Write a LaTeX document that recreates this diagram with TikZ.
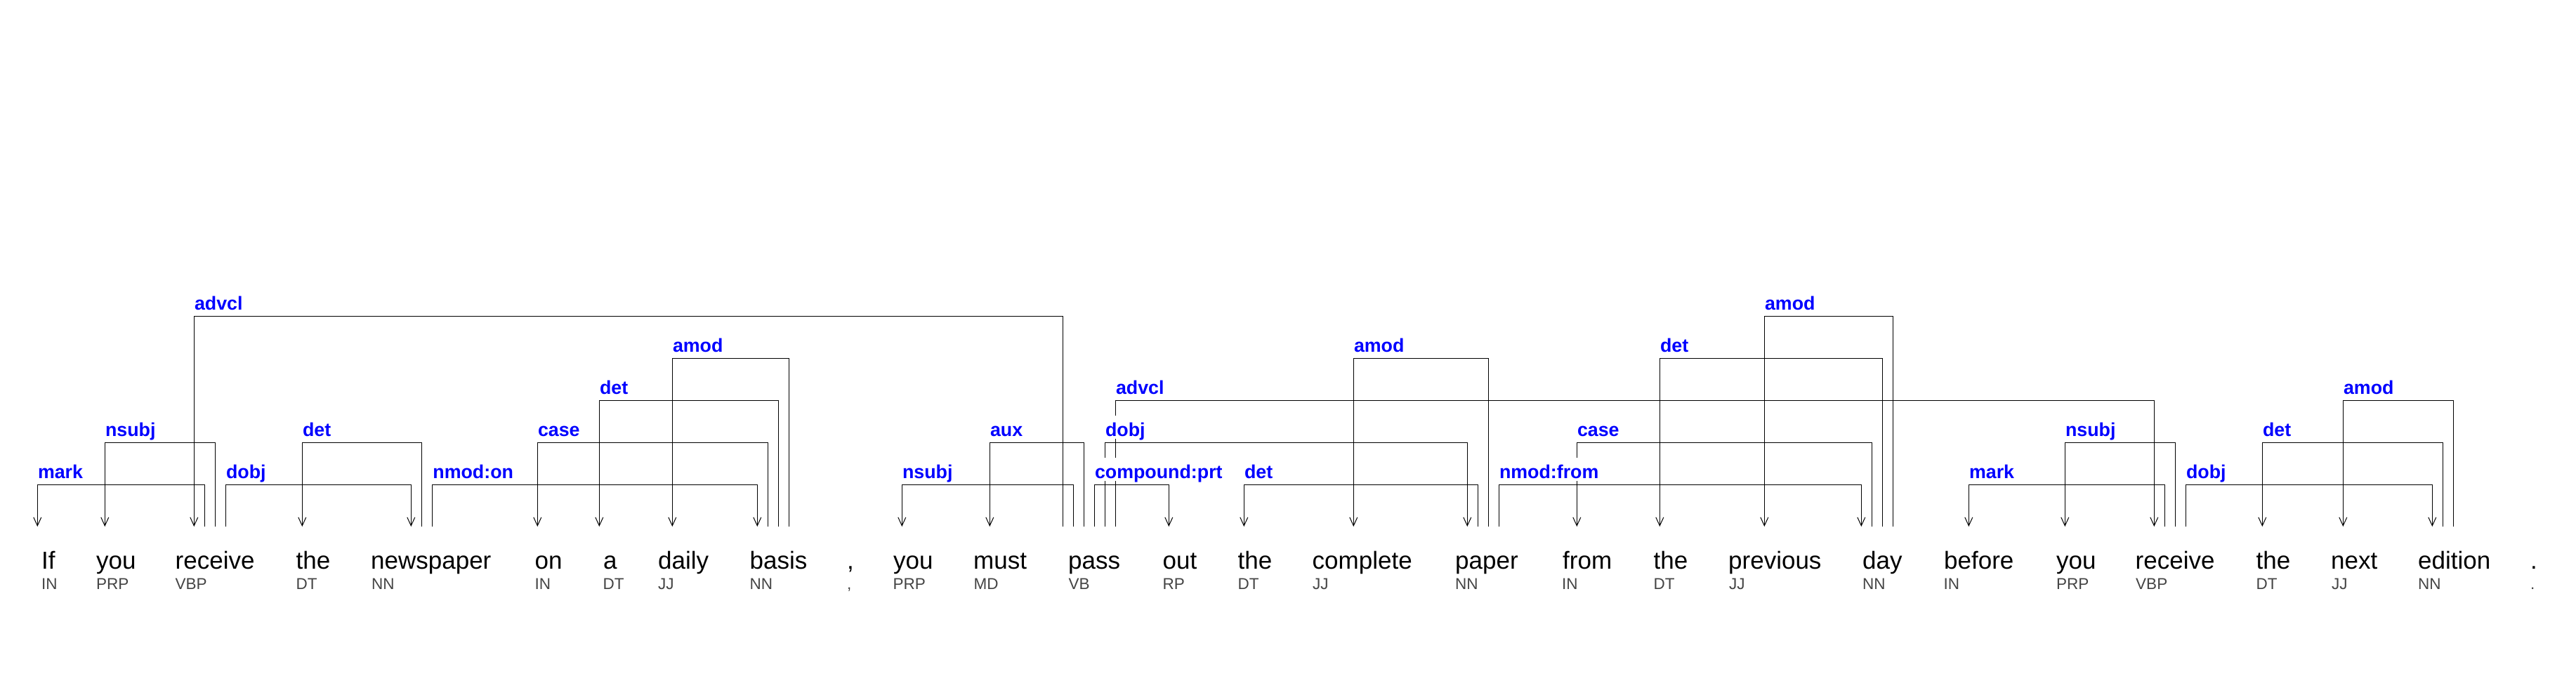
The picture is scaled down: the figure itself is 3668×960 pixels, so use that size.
\documentclass[tikz,border=0pt]{standalone}
\usepackage{fontspec}
\setmainfont{Liberation Sans}
\usetikzlibrary{arrows.meta}
\definecolor{tagcol}{RGB}{68,68,68}
\definecolor{lblblue}{RGB}{0,0,255}
\begin{document}
\begin{tikzpicture}[x=1pt,y=-1pt,
  word/.style={anchor=base west,inner sep=0pt,font=\fontsize{35}{40}\selectfont},
  postag/.style={anchor=base west,inner sep=0pt,text=tagcol,font=\fontsize{22.5}{26}\selectfont},
  deplabel/.style={anchor=base west,inner sep=0pt,fill=white,text=lblblue,text height=29pt,text depth=4pt,font=\bfseries\fontsize{26.8}{30}\selectfont},
  deparrow/.style={draw=black,line width=1pt,-{Straight Barb[length=12pt,width=11pt,line width=1pt]}}]
\fill[white] (0,0) rectangle (3668,960);
\useasboundingbox (0,0) rectangle (3668,960);
% level coordinates
\coordinate (L690) at (0,690);
\coordinate (L630) at (0,630);
\coordinate (L570) at (0,570);
\coordinate (L510) at (0,510);
\coordinate (L450) at (0,450);
% words
\node[word] (w1) at (59,810) {If};
\node[word] (w2) at (137,810) {you};
\node[word] (w3) at (249.5,810) {receive};
\node[word] (w4) at (421.5,810) {the};
\node[word] (w5) at (528,810) {newspaper};
\node[word] (w6) at (761.5,810) {on};
\node[word] (w7) at (859,810) {a};
\node[word] (w8) at (937,810) {daily};
\node[word] (w9) at (1067.5,810) {basis};
\node[word] (w10) at (1206,810) {,};
\node[word] (w11) at (1272,810) {you};
\node[word] (w12) at (1386,810) {must};
\node[word] (w13) at (1521,810) {pass};
\node[word] (w14) at (1655.5,810) {out};
\node[word] (w15) at (1762.5,810) {the};
\node[word] (w16) at (1868.5,810) {complete};
\node[word] (w17) at (2072,810) {paper};
\node[word] (w18) at (2225,810) {from};
\node[word] (w19) at (2354.5,810) {the};
\node[word] (w20) at (2461,810) {previous};
\node[word] (w21) at (2652,810) {day};
\node[word] (w22) at (2768,810) {before};
\node[word] (w23) at (2928,810) {you};
\node[word] (w24) at (3040.5,810) {receive};
\node[word] (w25) at (3212.5,810) {the};
\node[word] (w26) at (3319,810) {next};
\node[word] (w27) at (3443,810) {edition};
\node[word] (w28) at (3603,810) {.};
% tags
\node[postag] (t1) at (59,839) {IN};
\node[postag] (t2) at (137,839) {PRP};
\node[postag] (t3) at (249.5,839) {VBP};
\node[postag] (t4) at (421.5,839) {DT};
\node[postag] (t5) at (529,839) {NN};
\node[postag] (t6) at (761.5,839) {IN};
\node[postag] (t7) at (858.5,839) {DT};
\node[postag] (t8) at (937,839) {JJ};
\node[postag] (t9) at (1067.5,839) {NN};
\node[postag] (t10) at (1206,839) {,};
\node[postag] (t11) at (1271.5,839) {PRP};
\node[postag] (t12) at (1386.5,839) {MD};
\node[postag] (t13) at (1521.5,839) {VB};
\node[postag] (t14) at (1655.5,839) {RP};
\node[postag] (t15) at (1762.5,839) {DT};
\node[postag] (t16) at (1869,839) {JJ};
\node[postag] (t17) at (2072,839) {NN};
\node[postag] (t18) at (2224,839) {IN};
\node[postag] (t19) at (2354.5,839) {DT};
\node[postag] (t20) at (2462,839) {JJ};
\node[postag] (t21) at (2652,839) {NN};
\node[postag] (t22) at (2767.5,839) {IN};
\node[postag] (t23) at (2928,839) {PRP};
\node[postag] (t24) at (3041,839) {VBP};
\node[postag] (t25) at (3212.5,839) {DT};
\node[postag] (t26) at (3320,839) {JJ};
\node[postag] (t27) at (3443,839) {NN};
\node[postag] (t28) at (3603,839) {.};
% dependency connectors
\foreach \hx/\dx/\lv/\lab [count=\i] in {
  291.7/53.3/690/mark, 306.3/149.3/630/nsubj, 1513.3/276.3/450/advcl,
  321.3/585.3/690/dobj, 600.3/430.3/630/det, 615.7/1078.3/690/nmod:on,
  1093.3/765.3/630/case, 1108.3/853.3/570/det, 1123.3/957.3/510/amod,
  1528.3/1284.3/690/nsubj, 1543.3/1409.3/630/aux, 1558.3/1664.3/690/compound:prt,
  1573.3/2089.3/630/dobj, 1588.3/3067.3/570/advcl, 2104.3/1771.3/690/det,
  2119.3/1927.3/510/amod, 2134.3/2650.3/690/nmod:from, 2665.3/2245.3/630/case,
  2680.3/2363.3/510/det, 2695.3/2512.3/450/amod, 3082.3/2803.3/690/mark,
  3097.3/2940.3/630/nsubj, 3112.3/3463.3/690/dobj, 3478.3/3221.3/630/det,
  3493.3/3336.3/570/amod}{
  \coordinate (h\i) at (\hx,750);
  \coordinate (d\i) at (\dx,750);
  \draw[deparrow] (h\i) -- (h\i |- L\lv) -| (d\i);
}
% labels (drawn over the lines)
\foreach \hx/\dx/\lv/\lab [count=\i] in {
  291.7/53.3/690/mark, 306.3/149.3/630/nsubj, 1513.3/276.3/450/advcl,
  321.3/585.3/690/dobj, 600.3/430.3/630/det, 615.7/1078.3/690/nmod:on,
  1093.3/765.3/630/case, 1108.3/853.3/570/det, 1123.3/957.3/510/amod,
  1528.3/1284.3/690/nsubj, 1543.3/1409.3/630/aux, 1558.3/1664.3/690/compound:prt,
  1573.3/2089.3/630/dobj, 1588.3/3067.3/570/advcl, 2104.3/1771.3/690/det,
  2119.3/1927.3/510/amod, 2134.3/2650.3/690/nmod:from, 2665.3/2245.3/630/case,
  2680.3/2363.3/510/det, 2695.3/2512.3/450/amod, 3082.3/2803.3/690/mark,
  3097.3/2940.3/630/nsubj, 3112.3/3463.3/690/dobj, 3478.3/3221.3/630/det,
  3493.3/3336.3/570/amod}{
  \pgfmathsetmacro\lx{min(\hx,\dx)+0.5}
  \pgfmathsetmacro\ly{\lv-9}
  \node[deplabel] (lab\i) at (\lx,\ly) {\lab};
}
\end{tikzpicture}
\end{document}
